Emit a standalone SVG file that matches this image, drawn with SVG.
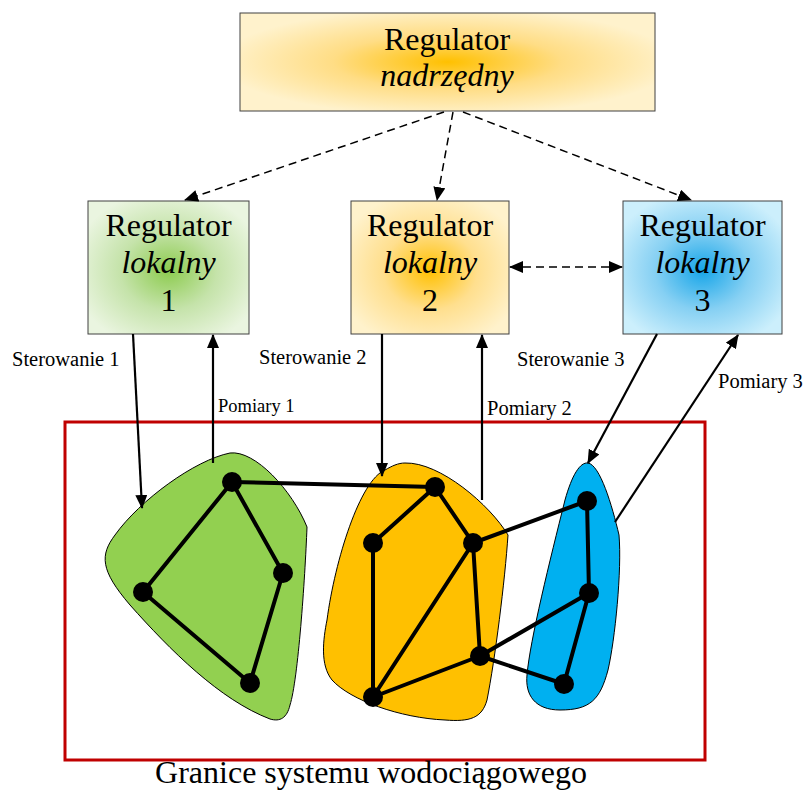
<svg xmlns="http://www.w3.org/2000/svg" width="808" height="791" viewBox="0 0 808 791">
<style>
text{font-family:"Liberation Serif","Times New Roman",serif;fill:#000}
.big{font-size:32px}
.it{font-style:italic}
.lbl{font-size:20.5px}
.box{stroke:#404040;stroke-width:1}
.dash{stroke:#000;stroke-width:1.5;stroke-dasharray:8,5;fill:none}
.arr{stroke:#000;stroke-width:2.2;fill:none}
.edge{stroke:#000;stroke-width:4;fill:none;stroke-linecap:round}
.blob{stroke:#000;stroke-width:1}
</style>
<defs>
<radialGradient id="gTop" cx="50%" cy="50%" r="55%">
<stop offset="0" stop-color="#FFC000"/>
<stop offset="0.5" stop-color="#FFDD85"/>
<stop offset="1" stop-color="#FFF2CC"/>
</radialGradient>
<radialGradient id="gGreen" cx="50%" cy="52%" r="60%">
<stop offset="0" stop-color="#8CCB4E"/>
<stop offset="0.5" stop-color="#C5E3AA"/>
<stop offset="1" stop-color="#EAF5E0"/>
</radialGradient>
<radialGradient id="gOrange" cx="50%" cy="52%" r="60%">
<stop offset="0" stop-color="#FFC000"/>
<stop offset="0.5" stop-color="#FFDF8E"/>
<stop offset="1" stop-color="#FFF2CC"/>
</radialGradient>
<radialGradient id="gBlue" cx="50%" cy="52%" r="60%">
<stop offset="0" stop-color="#16A5E8"/>
<stop offset="0.5" stop-color="#86D0F3"/>
<stop offset="1" stop-color="#CCEFFC"/>
</radialGradient>
<marker id="ah" markerWidth="14" markerHeight="12" refX="13" refY="6" orient="auto" markerUnits="userSpaceOnUse">
<path d="M0,0 L14,6 L0,12 Z" fill="#000"/>
</marker>
<marker id="ahs" markerWidth="14" markerHeight="12" refX="13" refY="6" orient="auto-start-reverse" markerUnits="userSpaceOnUse">
<path d="M0,0 L14,6 L0,12 Z" fill="#000"/>
</marker>
</defs>

<rect id="boundary" x="65" y="422" width="640" height="338" fill="none" stroke="#C00000" stroke-width="3"/>

<g id="regulator-nadrzedny">
<rect class="box" x="240" y="13" width="415" height="98" fill="url(#gTop)"/>
<text class="big" x="447" y="50" text-anchor="middle">Regulator</text>
<text class="big it" x="447" y="86" text-anchor="middle">nadrzędny</text>
</g>

<g id="regulator-1">
<rect class="box" x="88" y="201" width="161" height="133" fill="url(#gGreen)"/>
<text class="big" x="168.5" y="236" text-anchor="middle">Regulator</text>
<text class="big it" x="168.5" y="273" text-anchor="middle">lokalny</text>
<text class="big" x="168.5" y="311" text-anchor="middle">1</text>
</g>

<g id="regulator-2">
<rect class="box" x="351" y="201" width="158" height="133" fill="url(#gOrange)"/>
<text class="big" x="430" y="236" text-anchor="middle">Regulator</text>
<text class="big it" x="430" y="273" text-anchor="middle">lokalny</text>
<text class="big" x="430" y="311" text-anchor="middle">2</text>
</g>

<g id="regulator-3">
<rect class="box" x="623" y="201" width="159" height="133" fill="url(#gBlue)"/>
<text class="big" x="702.5" y="236" text-anchor="middle">Regulator</text>
<text class="big it" x="702.5" y="273" text-anchor="middle">lokalny</text>
<text class="big" x="702.5" y="311" text-anchor="middle">3</text>
</g>

<g id="zone-1">
<path class="blob" fill="#92D050" d="M230,453 C255,450 292,490 307,527 C305,580 298,680 290,705 C287,718 280,722 270,719 C220,700 170,650 130,605 C100,570 100,555 115,535 C140,500 195,460 230,453 Z"/>
</g>
<g id="zone-2">
<path class="blob" fill="#FFC000" d="M405,463 C440,462 490,505 508,535 C505,580 495,660 487,700 C482,718 470,722 445,720 C400,718 350,700 332,680 C320,665 323,640 327,620 C335,560 360,480 385,470 C392,466 398,463 405,463 Z"/>
</g>
<g id="zone-3">
<path class="blob" fill="#00B0F0" d="M588,463 C600,465 612,505 619,535 C622,570 615,640 608,670 C600,700 590,710 560,710 C535,710 525,695 527,675 C530,640 550,560 565,500 C572,475 580,462 588,463 Z"/>
</g>

<g id="connectors">
<line class="dash" x1="444" y1="112" x2="185" y2="200" marker-end="url(#ah)"/>
<line class="dash" x1="453" y1="112" x2="437" y2="200" marker-end="url(#ah)"/>
<line class="dash" x1="463" y1="112" x2="691" y2="200" marker-end="url(#ah)"/>
<line class="dash" x1="510" y1="267" x2="622" y2="267" marker-start="url(#ahs)" marker-end="url(#ah)"/>

<line class="arr" x1="133" y1="334" x2="142" y2="508" marker-end="url(#ah)"/>
<line class="arr" x1="213" y1="463" x2="213" y2="335" marker-end="url(#ah)"/>
<line class="arr" x1="382" y1="334" x2="382" y2="476" marker-end="url(#ah)"/>
<line class="arr" x1="482" y1="500" x2="482" y2="335" marker-end="url(#ah)"/>
<line class="arr" x1="657" y1="334" x2="588" y2="463" marker-end="url(#ah)"/>
<line class="arr" x1="615" y1="522" x2="738" y2="335" marker-end="url(#ah)"/>

<g id="network-edges">
<line class="edge" x1="232" y1="482" x2="435" y2="487"/>
<line class="edge" x1="232" y1="482" x2="283" y2="573"/>
<line class="edge" x1="232" y1="482" x2="143" y2="592"/>
<line class="edge" x1="143" y1="592" x2="250" y2="683"/>
<line class="edge" x1="250" y1="683" x2="283" y2="573"/>
<line class="edge" x1="435" y1="487" x2="373" y2="543"/>
<line class="edge" x1="435" y1="487" x2="473" y2="543"/>
<line class="edge" x1="373" y1="543" x2="373" y2="697"/>
<line class="edge" x1="473" y1="543" x2="373" y2="697"/>
<line class="edge" x1="473" y1="543" x2="480" y2="656"/>
<line class="edge" x1="480" y1="656" x2="373" y2="697"/>
<line class="edge" x1="473" y1="543" x2="587" y2="501"/>
<line class="edge" x1="480" y1="656" x2="589" y2="593"/>
<line class="edge" x1="480" y1="656" x2="564" y2="684"/>
<line class="edge" x1="587" y1="501" x2="589" y2="593"/>
<line class="edge" x1="589" y1="593" x2="564" y2="684"/>
</g>
</g>

<g id="network-nodes" fill="#000">
<circle cx="232" cy="482" r="10"/>
<circle cx="283" cy="573" r="10"/>
<circle cx="143" cy="592" r="10"/>
<circle cx="250" cy="683" r="10"/>
<circle cx="435" cy="487" r="10"/>
<circle cx="373" cy="543" r="10"/>
<circle cx="473" cy="543" r="10"/>
<circle cx="480" cy="656" r="10"/>
<circle cx="373" cy="697" r="10"/>
<circle cx="587" cy="501" r="10"/>
<circle cx="589" cy="593" r="10"/>
<circle cx="564" cy="684" r="10"/>
</g>

<g id="labels">
<text class="lbl" x="12" y="366">Sterowanie 1</text>
<text x="218" y="412" style="font-size:18.5px">Pomiary 1</text>
<text class="lbl" x="259" y="364">Sterowanie 2</text>
<text class="lbl" x="487" y="415">Pomiary 2</text>
<text class="lbl" x="517" y="366">Sterowanie 3</text>
<text class="lbl" x="718" y="388">Pomiary 3</text>
<text class="big" x="371" y="783" text-anchor="middle">Granice systemu wodociągowego</text>
</g>
</svg>
